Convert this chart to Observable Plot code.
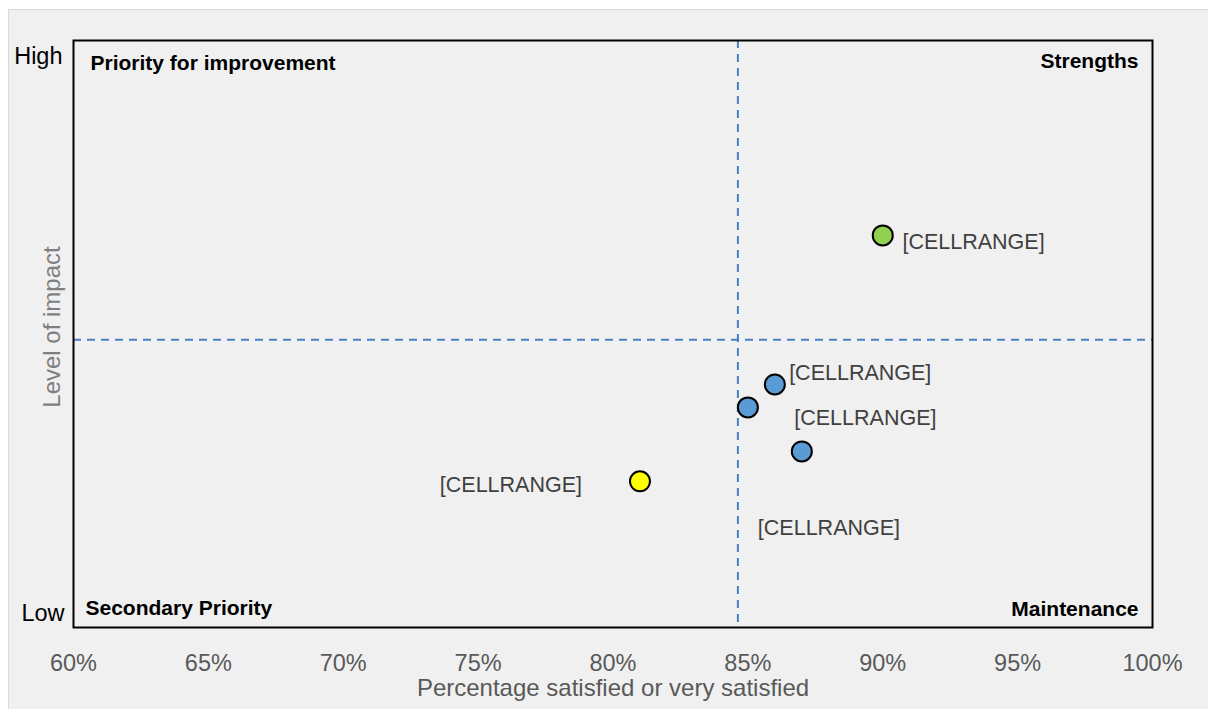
<!DOCTYPE html>
<html>
<head>
<meta charset="utf-8">
<script src="https://cdn.jsdelivr.net/npm/d3@7"></script>
<script src="https://cdn.jsdelivr.net/npm/@observablehq/plot@0.6"></script>
<style>
  html, body { margin: 0; padding: 0; background: #ffffff; }
  #wrap { position: relative; width: 1208px; height: 709px; overflow: hidden; }
  #panel { position: absolute; left: 8px; top: 9px; width: 1200px; height: 700px;
           background: #f0f0f0; border-left: 1px solid #d9d9d9; border-top: 1px solid #d9d9d9; }
  #chart { position: absolute; left: 0; top: 0; }
</style>
</head>
<body>
<div id="wrap"><div id="panel"></div><div id="chart"></div></div>
<script>
// ---- data ----
const satisfied = [90, 86, 85, 87, 81];                 // % satisfied or very satisfied
const impact = [0.668, 0.414, 0.375, 0.300, 0.249];     // level of impact (0 = low, 1 = high)
const quadrant = ["Strengths", "Maintenance", "Maintenance", "Maintenance", "Secondary Priority"];
const labelText = ["[CELLRANGE]", "[CELLRANGE]", "[CELLRANGE]", "[CELLRANGE]", "[CELLRANGE]"];
const labelX = [90.73, 86.53, 86.72, 85.37, 73.58];
const labelY = [0.656, 0.433, 0.357, 0.169, 0.242];
const xTicks = [60, 65, 70, 75, 80, 85, 90, 95, 100];
const impactLabels = ["Low", "High"];
const quadrantNames = ["Priority for improvement", "Strengths", "Secondary Priority", "Maintenance"];
const thresholdX = [84.63];
const thresholdY = [0.49];
const groupNames = ["Strengths", "Maintenance", "Secondary Priority"];
const groupColors = ["#92d050", "#5b9bd5", "#ffff00"];

const points = satisfied.map((x, i) => ({x, y: impact[i], q: quadrant[i]}));
const labels = labelText.map((t, i) => ({t, x: labelX[i], y: labelY[i]}));

const dash = {stroke: "#4a7fc1", strokeWidth: 2, strokeDasharray: "8,6"};
const bold = {fontSize: 21, fontWeight: "bold", fill: "black", lineAnchor: "middle"};

const plot = Plot.plot({
  width: 1208,
  height: 709,
  marginLeft: 73,
  marginRight: 56,
  marginTop: 40,
  marginBottom: 82,
  style: {background: "transparent", fontFamily: "'Liberation Sans', Arial, sans-serif"},
  x: {domain: [60, 100]},
  y: {domain: [0, 1]},
  color: {domain: groupNames, range: groupColors},
  marks: [
    Plot.ruleX(thresholdX, dash),
    Plot.ruleY(thresholdY, dash),
    Plot.frame({stroke: "black", strokeWidth: 2}),
    Plot.axisX({ticks: xTicks, tickFormat: d => d + "%", tickSize: 0, tickPadding: 27,
                fontSize: 23.5, color: "#595959", label: null}),
    Plot.axisY({ticks: [], label: null, tickSize: 0}),
    Plot.text([impactLabels[1]], {frameAnchor: "top-left", textAnchor: "end", lineAnchor: "middle", dx: -11, dy: 16, fontSize: 23.5, fill: "black"}),
    Plot.text([impactLabels[0]], {frameAnchor: "bottom-left", textAnchor: "end", lineAnchor: "middle", dx: -9, dy: -14, fontSize: 23.5, fill: "black"}),
    Plot.text(["Percentage satisfied or very satisfied"], {frameAnchor: "bottom", lineAnchor: "middle", dy: 61, fontSize: 24, fill: "#595959"}),
    Plot.text(["Level of impact"], {frameAnchor: "left", textAnchor: "middle", lineAnchor: "middle", rotate: -90, dx: -21, dy: -7, fontSize: 24, fill: "#7f7f7f"}),
    Plot.text([quadrantNames[0]], {frameAnchor: "top-left", textAnchor: "start", dx: 17, dy: 23, ...bold}),
    Plot.text([quadrantNames[1]], {frameAnchor: "top-right", textAnchor: "end", dx: -14, dy: 21, ...bold}),
    Plot.text([quadrantNames[2]], {frameAnchor: "bottom-left", textAnchor: "start", dx: 12, dy: -19, ...bold}),
    Plot.text([quadrantNames[3]], {frameAnchor: "bottom-right", textAnchor: "end", dx: -14, dy: -18, ...bold}),
    Plot.dot(points, {x: "x", y: "y", fill: "q", r: 10, stroke: "black", strokeWidth: 2}),
    Plot.text(labels, {x: "x", y: "y", text: "t", textAnchor: "start", fontSize: 21.5, fill: "#404040"})
  ]
});
document.getElementById("chart").appendChild(plot);
</script>
</body>
</html>
